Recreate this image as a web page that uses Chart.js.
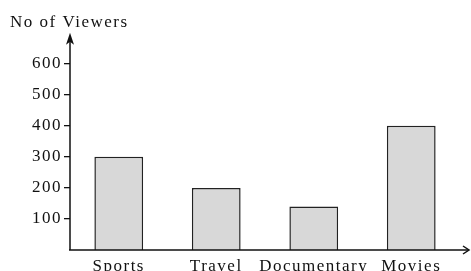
<!DOCTYPE html>
<html>
<head>
<meta charset="utf-8">
<script src="https://cdn.jsdelivr.net/npm/chart.js"></script>
<style>
  html, body { margin: 0; padding: 0; background: #fff; }
  #wrap { width: 471px; height: 271px; }
</style>
</head>
<body>
<div id="wrap"><canvas id="myChart"></canvas></div>
<script>
// data
const categories = ['Sports', 'Travel', 'Documentary', 'Movies'];
const viewers = [300, 200, 140, 400];
const yTicks = [100, 200, 300, 400, 500, 600];

const ink = '#111';
const serif = 'Liberation Serif, Times New Roman, serif';

// stretch the glyphs a bit, the scan is wide
const spacing = {
  id: 'spacing',
  beforeUpdate(chart) { chart.ctx.letterSpacing = '1.5px'; },
  beforeDraw(chart) { chart.ctx.letterSpacing = '1.5px'; }
};

// axis lines with arrow heads
const axes = {
  id: 'axes',
  afterDraw(chart) {
    const ctx = chart.ctx;
    const a = chart.chartArea;
    const y0 = chart.scales.y.getPixelForValue(0);
    ctx.save();
    ctx.strokeStyle = ink;
    ctx.fillStyle = ink;
    ctx.lineWidth = 1.5;
    ctx.beginPath();
    ctx.moveTo(a.left, y0);
    ctx.lineTo(a.left, a.top + 8);
    ctx.moveTo(a.left - 1, y0);
    ctx.lineTo(a.right + 8, y0);
    ctx.stroke();
    // up arrow
    ctx.beginPath();
    ctx.moveTo(a.left, a.top);
    ctx.lineTo(a.left - 4, a.top + 12);
    ctx.lineTo(a.left, a.top + 9);
    ctx.lineTo(a.left + 4, a.top + 12);
    ctx.closePath();
    ctx.fill();
    // right arrow
    ctx.beginPath();
    ctx.moveTo(a.right + 3, y0 - 4);
    ctx.lineTo(a.right + 9, y0);
    ctx.lineTo(a.right + 3, y0 + 4);
    ctx.stroke();
    ctx.restore();
  }
};

const data = {
  labels: categories,
  datasets: [{
    data: viewers,
    backgroundColor: '#d8d8d8',
    borderColor: '#222',
    borderWidth: 1.5,
    barPercentage: 0.5,
    categoryPercentage: 1.0
  }]
};

const config = {
  type: 'bar',
  data: data,
  options: {
    responsive: true,
    maintainAspectRatio: false,
    animation: false,
    layout: { padding: { left: 10, right: 11, top: 0, bottom: 0 } },
    plugins: {
      legend: { display: false },
      tooltip: { enabled: false },
      title: {
        display: true,
        text: 'No of Viewers',
        align: 'start',
        color: ink,
        font: { family: serif, size: 17, weight: 'normal', lineHeight: 1.1 },
        padding: { top: 13, bottom: 1 }
      }
    },
    scales: {
      x: {
        grid: { display: false },
        border: { display: false },
        ticks: {
          color: ink, padding: -2, maxRotation: 0, minRotation: 0, autoSkip: false,
          font: { family: serif, size: 17 }
        },
        afterFit: s => { s.height = 21; }
      },
      y: {
        min: 0,
        max: 700,
        afterBuildTicks: s => { s.ticks = yTicks.map(v => ({ value: v })); },
        grid: { drawOnChartArea: false, tickLength: 6, color: ink, lineWidth: 1.3 },
        border: { display: false },
        ticks: { color: ink, padding: 2, font: { family: serif, size: 17 } },
        afterFit: s => { s.width = 60; }
      }
    }
  },
  plugins: [spacing, axes]
};

var myChart = new Chart(document.getElementById('myChart'), config);
</script>
</body>
</html>
